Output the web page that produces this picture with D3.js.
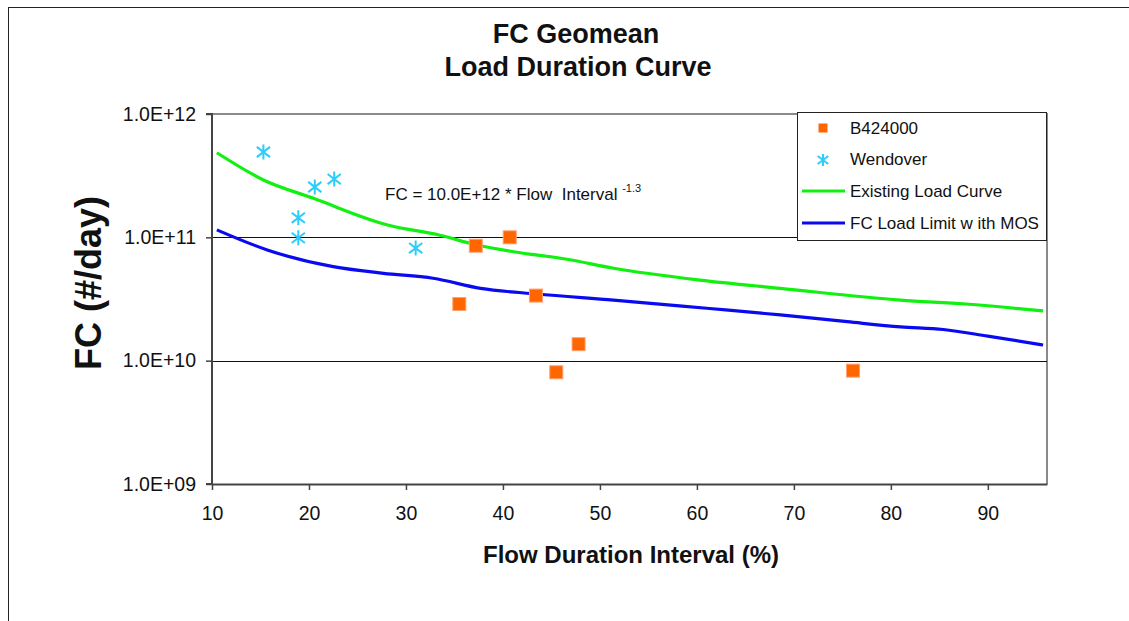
<!DOCTYPE html>
<html lang="en">
  <head>
    <meta charset="UTF-8" />
    <title>FC Geomean Load Duration Curve</title>
    <script src="https://cdn.jsdelivr.net/npm/d3@7"></script>
    <style>
      body { margin: 0; background: #fff; }
      svg { font-family: "Liberation Sans", Arial, sans-serif; }
    </style>
  </head>
  <body>
    <div id="chart"></div>
    <script>
      // tick labels / domain
      const xTicks = [10, 20, 30, 40, 50, 60, 70, 80, 90];
      const yTicks = [1e9, 1e10, 1e11, 1e12];
      const gridValues = [1e10, 1e11];

      // B424000 observations
      const b424X = [35.5, 37.2, 40.7, 43.4, 45.5, 47.8, 76.1];
      const b424Y = [2.88e10, 8.55e10, 1.0e11, 3.37e10, 8.05e9, 1.36e10, 8.3e9];

      // Wendover observations
      const wendX = [15.3, 18.9, 18.9, 20.6, 22.6, 31.0];
      const wendY = [4.92e11, 1.44e11, 9.9e10, 2.56e11, 2.97e11, 8.19e10];

      // Existing Load Curve
      const existX = [10.5, 15.3, 20.4, 28.1, 33.5, 37.3, 41.1, 46.6, 51.4, 60.3, 68.6, 81.0, 87.7, 95.7];
      const existY = [4.85e11, 2.92e11, 2.08e11, 1.26e11, 1.04e11, 8.67e10, 7.64e10, 6.64e10, 5.61e10, 4.5e10, 3.86e10, 3.1e10, 2.88e10, 2.53e10];

      // FC Load Limit with MOS
      const limitX = [10.5, 15.7, 22.5, 27.7, 32.8, 37.7, 43.5, 51.4, 61.0, 68.6, 75.5, 81.0, 85.4, 90.0, 95.7];
      const limitY = [1.15e11, 7.9e10, 5.78e10, 5.11e10, 4.66e10, 3.86e10, 3.47e10, 3.1e10, 2.66e10, 2.35e10, 2.07e10, 1.88e10, 1.79e10, 1.58e10, 1.34e10];

      const seriesNames = ["B424000", "Wendover", "Existing Load Curve", "FC Load Limit w ith MOS"];

      const W = 1129, H = 621;
      var margin = { top: 114, right: 82, bottom: 137, left: 212 },
        width = W - margin.left - margin.right,
        height = H - margin.top - margin.bottom;

      var svg = d3.select("#chart").append("svg")
        .attr("width", W).attr("height", H);

      // outer chart border
      svg.append("rect")
        .attr("x", 8.5).attr("y", 7.5)
        .attr("width", W + 20).attr("height", H + 20)
        .attr("fill", "none").attr("stroke", "#222").attr("stroke-width", 1);

      var g = svg.append("g")
        .attr("transform", "translate(" + margin.left + "," + margin.top + ")");

      var x = d3.scaleLinear().domain([10, 96.1]).range([0, width]);
      var y = d3.scaleLog().domain([1e9, 1e12]).range([height, 0]);

      // plot area top/right border
      g.append("path")
        .attr("d", "M0,0H" + width + "V" + height)
        .attr("fill", "none").attr("stroke", "#8a8a8a").attr("stroke-width", 2);

      // gridlines
      g.selectAll(".grid").data(gridValues).enter().append("line")
        .attr("x1", 0).attr("x2", width)
        .attr("y1", (d) => Math.round(y(d)) + 0.5).attr("y2", (d) => Math.round(y(d)) + 0.5)
        .attr("stroke", "#111").attr("stroke-width", 1);

      // axes
      var yAxis = g.append("g")
        .call(d3.axisLeft(y).tickValues(yTicks).tickSize(6).tickPadding(10)
          .tickFormat((d) => "1.0E+" + String(Math.round(Math.log10(d))).padStart(2, "0")));
      var xAxis = g.append("g").attr("transform", "translate(0," + height + ")")
        .call(d3.axisBottom(x).tickValues(xTicks).tickSize(6).tickPadding(16).tickSizeOuter(0));
      [xAxis, yAxis].forEach((a) => {
        a.select(".domain").attr("stroke", "#444").attr("stroke-width", 2);
        a.selectAll(".tick line").attr("stroke", "#444").attr("stroke-width", 1.5);
        a.selectAll("text").attr("font-size", 19.5).attr("font-family", "Liberation Sans, Arial, sans-serif").attr("fill", "#111");
      });
      yAxis.select(".domain").attr("d", "M-6," + height + "H0V0H-6");

      // lines
      var line = d3.line().x((d) => x(d[0])).y((d) => y(d[1])).curve(d3.curveMonotoneX);
      g.append("path").datum(d3.zip(existX, existY))
        .attr("d", line).attr("fill", "none").attr("stroke", "#11f011").attr("stroke-width", 3.2);
      g.append("path").datum(d3.zip(limitX, limitY))
        .attr("d", line).attr("fill", "none").attr("stroke", "#0a0af0").attr("stroke-width", 3.2);

      // markers
      var star = function (s) {
        const h = s / 2, dx = s * 0.44, dy = s * 0.34;
        return "M0," + (-h) + "V" + h + "M" + (-dx) + "," + (-dy) + "L" + dx + "," + dy +
          "M" + (-dx) + "," + dy + "L" + dx + "," + (-dy);
      };
      g.selectAll(".wend").data(d3.zip(wendX, wendY)).enter().append("path")
        .attr("transform", (d) => "translate(" + x(d[0]) + "," + y(d[1]) + ")")
        .attr("d", star(15)).attr("fill", "none").attr("stroke", "#2ccdfa").attr("stroke-width", 2);
      g.selectAll(".b424").data(d3.zip(b424X, b424Y)).enter().append("rect")
        .attr("x", (d) => x(d[0]) - 6.5).attr("y", (d) => y(d[1]) - 6.5)
        .attr("width", 13).attr("height", 13)
        .attr("fill", "#ff6600").attr("stroke", "#ffa070").attr("stroke-width", 1);

      // equation annotation
      var eq = svg.append("text").attr("x", 385).attr("y", 200)
        .attr("font-size", 17).attr("fill", "#111").style("white-space", "pre");
      eq.append("tspan").text("FC = 10.0E+12 * Flow  Interval ");
      eq.append("tspan").attr("font-size", 11).attr("dy", -8).text("-1.3");

      // legend
      var leg = svg.append("g").attr("transform", "translate(797,112)");
      leg.append("rect").attr("x", 0.5).attr("y", 0.5).attr("width", 249).attr("height", 128)
        .attr("fill", "#fff").attr("stroke", "#222").attr("stroke-width", 1);
      var rowY = [16, 47, 79, 111];
      seriesNames.forEach((name, i) => {
        var r = leg.append("g").attr("transform", "translate(0," + rowY[i] + ")");
        if (i === 0) {
          r.append("rect").attr("x", 21.5).attr("y", -4.5).attr("width", 9).attr("height", 9).attr("fill", "#ff6600");
        } else if (i === 1) {
          r.append("path").attr("transform", "translate(26,1)").attr("d", star(12))
            .attr("fill", "none").attr("stroke", "#2ccdfa").attr("stroke-width", 2);
        } else {
          r.append("line").attr("x1", 5).attr("x2", 48).attr("y1", 0).attr("y2", 0)
            .attr("stroke", i === 2 ? "#11f011" : "#0a0af0").attr("stroke-width", 3.2);
        }
        r.append("text").attr("x", 53).attr("y", 6).attr("font-size", 17).attr("fill", "#111")
          .style("white-space", "pre").text(name);
      });

      // titles
      var title = svg.append("text").attr("text-anchor", "middle")
        .attr("font-size", 27).attr("font-weight", "bold").attr("fill", "#111");
      title.append("tspan").attr("x", 576).attr("y", 43).text("FC Geomean");
      title.append("tspan").attr("x", 578).attr("y", 76).text("Load Duration Curve");

      svg.append("text").attr("x", 631).attr("y", 563).attr("text-anchor", "middle")
        .attr("font-size", 24).attr("font-weight", "bold").attr("fill", "#111")
        .text("Flow Duration Interval (%)");

      svg.append("text").attr("transform", "translate(101,283) rotate(-90)")
        .attr("text-anchor", "middle").attr("font-size", 36).attr("font-weight", "bold").attr("fill", "#111")
        .text("FC (#/day)");
    </script>
  </body>
</html>
